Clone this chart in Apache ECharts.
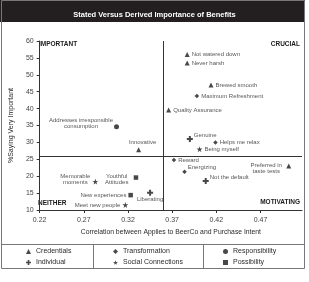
<!DOCTYPE html>
<html>
<head>
<meta charset="utf-8">
<script src="https://cdn.jsdelivr.net/npm/echarts@6/dist/echarts.min.js"></script>
<style>
  html, body { margin: 0; padding: 0; background: #fff; }
  #chart { width: 309px; height: 282px; }
</style>
</head>
<body>
<div id="chart"></div>
<script>
// benefit points: name, correlation (x), % saying very important (y), group
const benefitNames = [
  'Not watered down', 'Never harsh', 'Brewed smooth', 'Quality Assurance', 'Innovative', 'Preferred in\ntaste tests',
  'Maximum Refreshment', 'Helps me relax', 'Reward', 'Energizing',
  'Genuine', 'Not the default', 'Liberating',
  'Being myself', 'Memorable\nmoments', 'Meet new people',
  'Addresses irresponsible\nconsumption',
  'Youthful\nAttitudes', 'New experiences'
]
const correlation = [
  0.387, 0.387, 0.414, 0.366, 0.332, 0.502,
  0.398, 0.419, 0.372, 0.384,
  0.390, 0.408, 0.345,
  0.401, 0.283, 0.317,
  0.307,
  0.329, 0.323
]
const pctVeryImportant = [
  56, 53.5, 47, 39.6, 27.8, 23,
  43.7, 30, 24.8, 21.3,
  31, 18.6, 15.1,
  28, 18.4, 11.5,
  34.6,
  19.6, 14.4
]
const benefitGroup = [
  'Credentials', 'Credentials', 'Credentials', 'Credentials', 'Credentials', 'Credentials',
  'Transformation', 'Transformation', 'Transformation', 'Transformation',
  'Individual', 'Individual', 'Individual',
  'Social Connections', 'Social Connections', 'Social Connections',
  'Responsibility',
  'Possibility', 'Possibility'
]
const groups = ['Credentials', 'Individual', 'Transformation', 'Social Connections', 'Responsibility', 'Possibility']
const xTicks = [0.22, 0.27, 0.32, 0.37, 0.42, 0.47]
const quadrantX = 0.36
const quadrantY = 26

// marker per group
const symbols = {
  'Credentials': ['triangle', 5],
  'Individual': ['path://M2,0H4V2H6V4H4V6H2V4H0V2H2Z', 6],
  'Transformation': ['diamond', 4.5],
  'Social Connections': ['path://M50,0L61,35H98L68,57L79,91L50,70L21,91L32,57L2,35H39Z', 6],
  'Responsibility': ['circle', 5],
  'Possibility': ['rect', 4.5]
}

// label placement (style only)
const labelPlace = {
  'Genuine': { position: 'right', offset: [-1, -4] },
  'Energizing': { position: 'right', offset: [-1, -4] },
  'Not the default': { position: 'right', offset: [-1, -4] },
  'Preferred in\ntaste tests': { position: 'left', align: 'center', offset: [-18, 2] },
  'Innovative': { position: 'top', offset: [4, 0] },
  'Liberating': { position: 'bottom', offset: [0, -1] },
  'Addresses irresponsible\nconsumption': { position: 'left', align: 'center', offset: [-31, -4] },
  'Memorable\nmoments': { position: 'left', align: 'center', offset: [-15, -2] },
  'Youthful\nAttitudes': { position: 'left', align: 'center', offset: [-15, 2] },
  'New experiences': { position: 'left' },
  'Meet new people': { position: 'left' }
}

const textColor = '#2b2b2b'
const font = 'Liberation Sans, Arial, sans-serif'

const series = groups.map((g, gi) => {
  const data = []
  benefitNames.forEach((n, i) => {
    if (benefitGroup[i] !== g) return
    const p = labelPlace[n] || { position: 'right' }
    data.push({
      name: n,
      value: [correlation[i], pctVeryImportant[i]],
      label: {
        show: true,
        formatter: '{b}',
        position: p.position,
        offset: p.offset || [0, 0],
        align: p.align,
        distance: 2,
        fontSize: 6,
        lineHeight: 6,
        color: textColor,
        fontFamily: font
      }
    })
  })
  const s = {
    name: g,
    type: 'scatter',
    symbol: symbols[g][0],
    symbolSize: symbols[g][1],
    itemStyle: { color: '#1a1a1a' },
    data: data
  }
  if (gi === 0) {
    s.markLine = {
      silent: true,
      symbol: 'none',
      label: { show: false },
      lineStyle: { color: '#333', width: 1, type: 'solid' },
      data: [{ xAxis: quadrantX }, { yAxis: quadrantY }]
    }
  }
  return s
})

const legendCols = [['Credentials', 'Individual'], ['Transformation', 'Social Connections'], ['Responsibility', 'Possibility']]
const legendLeft = [26, 113, 223]

const chart = echarts.init(document.getElementById('chart'))
chart.setOption({
  animation: false,
  title: {
    text: 'Stated Versus Derived Importance of Benefits',
    left: 'center',
    top: 6,
    textStyle: { color: '#fff', fontSize: 7.5, fontWeight: 'bold', fontFamily: font }
  },
  legend: legendCols.map((c, i) => ({
    data: c,
    orient: 'vertical',
    left: legendLeft[i],
    top: 248,
    itemWidth: 5,
    itemHeight: 5,
    itemGap: 4,
    padding: 0,
    selectedMode: false,
    textStyle: { fontSize: 7, color: textColor, fontFamily: font, padding: [0, 0, 0, 0] }
  })),
  grid: { left: 35, right: 7, top: 41, bottom: 72 },
  xAxis: {
    type: 'value',
    min: 0.22,
    max: 0.517,
    name: 'Correlation between Applies to BeerCo and Purchase Intent',
    nameLocation: 'middle',
    nameGap: 18,
    nameTextStyle: { fontSize: 6.8, color: textColor, fontFamily: font },
    axisLine: { lineStyle: { color: '#333', width: 1 } },
    axisTick: { show: true, length: 3, customValues: xTicks, lineStyle: { color: '#333' } },
    axisLabel: { customValues: xTicks, fontSize: 7, color: '#444', margin: 7, fontFamily: font, formatter: v => v.toFixed(2) },
    splitLine: { show: false }
  },
  yAxis: {
    type: 'value',
    min: 10,
    max: 60,
    interval: 5,
    name: '%Saying Very Important',
    nameLocation: 'middle',
    nameGap: 22,
    nameTextStyle: { fontSize: 7, color: textColor, fontFamily: font },
    axisLine: { show: true, lineStyle: { color: '#333', width: 1 } },
    axisTick: { show: true, length: 3, lineStyle: { color: '#333' } },
    axisLabel: { fontSize: 7, color: '#444', margin: 6, fontFamily: font },
    splitLine: { show: false }
  },
  graphic: [
    { type: 'rect', z: -1, shape: { x: 0, y: 0, width: 305, height: 22 }, style: { fill: '#231f20' } },
    { type: 'rect', z: -1, shape: { x: 1.5, y: 0.5, width: 303, height: 268 }, style: { fill: 'none', stroke: '#777', lineWidth: 1 } },
    { type: 'line', shape: { x1: 1.5, y1: 244.5, x2: 304.5, y2: 244.5 }, style: { stroke: '#777', lineWidth: 1 } },
    { type: 'line', shape: { x1: 93.5, y1: 244.5, x2: 93.5, y2: 268.5 }, style: { stroke: '#777', lineWidth: 1 } },
    { type: 'line', shape: { x1: 203.5, y1: 244.5, x2: 203.5, y2: 268.5 }, style: { stroke: '#777', lineWidth: 1 } },
    { type: 'text', left: 39, top: 41, style: { text: 'IMPORTANT', fontSize: 6.5, fontWeight: 'bold', fill: '#1a1a1a', fontFamily: font } },
    { type: 'text', right: 9, top: 41, style: { text: 'CRUCIAL', fontSize: 6.5, fontWeight: 'bold', fill: '#1a1a1a', fontFamily: font } },
    { type: 'text', left: 38, top: 200, style: { text: 'NEITHER', fontSize: 6.5, fontWeight: 'bold', fill: '#1a1a1a', fontFamily: font } },
    { type: 'text', right: 9, top: 199, style: { text: 'MOTIVATING', fontSize: 6.5, fontWeight: 'bold', fill: '#1a1a1a', fontFamily: font } }
  ],
  series: series
})
</script>
</body>
</html>
